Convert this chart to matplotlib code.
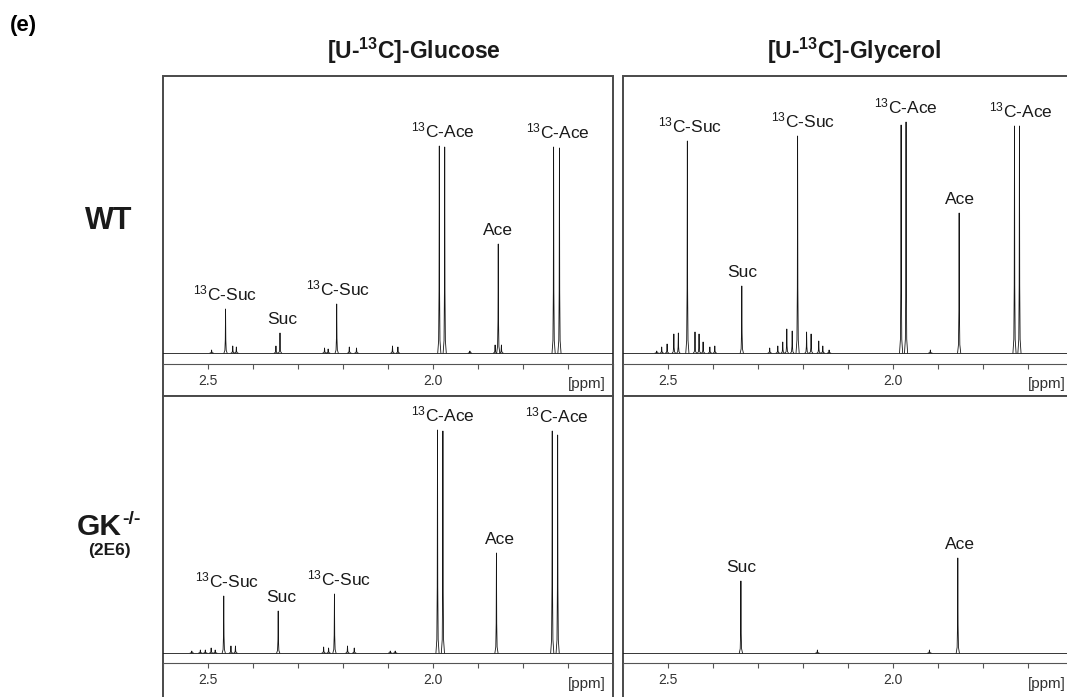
import numpy as np
import matplotlib
matplotlib.use("Agg")
import matplotlib.pyplot as plt
from matplotlib.ticker import MultipleLocator, FormatStrFormatter

plt.rcParams['font.family'] = ['Liberation Sans', 'DejaVu Sans']
plt.rcParams['mathtext.fontset'] = 'custom'
plt.rcParams['mathtext.rm'] = 'Liberation Sans'
plt.rcParams['mathtext.it'] = 'Liberation Sans:italic'
plt.rcParams['mathtext.bf'] = 'Liberation Sans:bold'

# peak lists: chemical shift [ppm], height above baseline
wt_glc_ppm = [2.492, 2.461, 2.445, 2.437, 2.349, 2.340, 2.241, 2.233, 2.214, 2.186,
              2.170, 2.090, 2.078, 1.986, 1.974, 1.918, 1.862, 1.855, 1.848, 1.732, 1.719]
wt_glc_int = [3, 44, 7, 6, 7, 20, 5, 4, 49, 6,
              5, 7, 6, 207, 206, 2, 8, 109, 8, 206, 205]

wt_gly_ppm = [2.525, 2.514, 2.502, 2.487, 2.477, 2.457, 2.440, 2.431, 2.422, 2.407,
              2.396, 2.336, 2.274, 2.256, 2.245, 2.236, 2.224, 2.212, 2.192, 2.182,
              2.165, 2.156, 2.142, 1.982, 1.971, 1.917, 1.853, 1.730, 1.719]
wt_gly_int = [2, 6, 9, 19, 20, 212, 21, 19, 11, 6,
              7, 67, 5, 7, 11, 24, 22, 217, 21, 19,
              12, 7, 3, 228, 231, 3, 140, 227, 227]

gk_glc_ppm = [2.536, 2.517, 2.506, 2.493, 2.484, 2.465, 2.449, 2.439, 2.344, 2.243,
              2.232, 2.219, 2.190, 2.175, 2.095, 2.084, 1.990, 1.978, 1.859, 1.735, 1.723]
gk_glc_int = [2, 3, 3, 5, 3, 57, 7, 7, 42, 6,
              5, 59, 7, 5, 2, 2, 223, 222, 100, 222, 218]

gk_gly_ppm = [2.338, 2.168, 1.919, 1.856]
gk_gly_int = [72, 3, 3, 95]

# peak labels: text, shift of label centre
wt_glc_labels = [("$^{13}$C-Suc", 2.462), ("Suc", 2.336), ("$^{13}$C-Suc", 2.211),
                 ("$^{13}$C-Ace", 1.978), ("Ace", 1.855), ("$^{13}$C-Ace", 1.722)]
wt_gly_labels = [("$^{13}$C-Suc", 2.451), ("Suc", 2.336), ("$^{13}$C-Suc", 2.201),
                 ("$^{13}$C-Ace", 1.971), ("Ace", 1.852), ("$^{13}$C-Ace", 1.717)]
gk_glc_labels = [("$^{13}$C-Suc", 2.457), ("Suc", 2.337), ("$^{13}$C-Suc", 2.208),
                 ("$^{13}$C-Ace", 1.979), ("Ace", 1.851), ("$^{13}$C-Ace", 1.724)]
gk_gly_labels = [("Suc", 2.337), ("Ace", 1.852)]

col_titles = [r"[U-$^{\mathbf{13}}$C]-Glucose", r"[U-$^{\mathbf{13}}$C]-Glycerol"]

# line shape used for every peak (style, not data)
PEAK_DX = np.array([-0.0035, -0.0015, -0.0006, 0.0, 0.0006, 0.0015, 0.0035])
PEAK_FRAC = np.array([0.0, 0.06, 0.3, 1.0, 0.3, 0.06, 0.0])

LINE = '#151515'
FRAME = '#4a4a4a'
AXC = '#555555'

W, H = 1067, 697
fig = plt.figure(figsize=(W / 100, H / 100), dpi=100)


def add_px_axes(x0, top, width, bottom):
    return fig.add_axes([x0 / W, 1 - bottom / H, width / W, (bottom - top) / H])


def draw_panel(ax, ppm, inten, labels, ylim, axis_y):
    ax.axhline(0, color=LINE, lw=0.6)
    for p, h in zip(ppm, inten):
        ax.plot(p + PEAK_DX, h * PEAK_FRAC, color=LINE, lw=0.6)

    for text, p in labels:
        top = max(h for q, h in zip(ppm, inten) if abs(q - p) <= 0.012)
        ax.annotate(text, xy=(p, top), xytext=(0, 6.5), textcoords='offset points',
                    ha='center', va='baseline', fontsize=12.5, color='#1a1a1a')

    ax.set_xlim(2.6, 1.6)
    ax.set_ylim(*ylim)
    ax.set_yticks([])
    for s in ('left', 'right', 'top'):
        ax.spines[s].set_visible(False)
    ax.spines['bottom'].set_position(('data', axis_y))
    ax.spines['bottom'].set_color(AXC)
    ax.spines['bottom'].set_linewidth(0.8)
    ax.patch.set_edgecolor(FRAME)
    ax.patch.set_linewidth(1.4)

    ax.xaxis.set_major_locator(MultipleLocator(0.5))
    ax.xaxis.set_minor_locator(MultipleLocator(0.1))
    ax.xaxis.set_major_formatter(FormatStrFormatter('%.1f'))
    ax.tick_params(axis='x', which='both', direction='out', length=3.6, width=0.8,
                   color=AXC, labelsize=10, labelcolor='#333333', pad=3.5)
    ax.text(1 - 7 / 450, -31, '[ppm]', transform=ax.get_yaxis_transform(),
            ha='right', va='center', fontsize=11, color='#333333')


ax_tl = add_px_axes(163, 76, 450, 396)
ax_tr = add_px_axes(623, 76, 450, 396)
ax_bl = add_px_axes(163, 396, 450, 699)
ax_br = add_px_axes(623, 396, 450, 699)

draw_panel(ax_tl, wt_glc_ppm, wt_glc_int, wt_glc_labels, (-43, 277), -11)
draw_panel(ax_tr, wt_gly_ppm, wt_gly_int, wt_gly_labels, (-43, 277), -11)
draw_panel(ax_bl, gk_glc_ppm, gk_glc_int, gk_glc_labels, (-46, 257), -10)
draw_panel(ax_br, gk_gly_ppm, gk_gly_int, gk_gly_labels, (-46, 257), -10)

fig.text(10 / W, 1 - 25 / H, '(e)', fontsize=16, fontweight='bold', ha='left', va='center')
fig.text(327 / W, 1 - 59 / H, col_titles[0], fontsize=16.5, fontweight='bold',
         ha='left', va='baseline', color='#1a1a1a')
fig.text(767 / W, 1 - 59 / H, col_titles[1], fontsize=16.5, fontweight='bold',
         ha='left', va='baseline', color='#1a1a1a')

fig.text(109 / W, 1 - 221 / H, 'WT', fontsize=22, fontweight='bold', ha='center', va='center', color='#1a1a1a')
fig.text(122 / W, 1 - 527 / H, 'GK', fontsize=21.5, fontweight='bold', ha='right', va='center', color='#1a1a1a')
fig.text(122 / W, 1 - 519 / H, '-/-', fontsize=14, fontweight='bold', ha='left', va='center', color='#1a1a1a')
fig.text(109 / W, 1 - 551 / H, '(2E6)', fontsize=12.5, fontweight='bold', ha='center', va='center', color='#1a1a1a')

fig.savefig('out.png', dpi=100)
